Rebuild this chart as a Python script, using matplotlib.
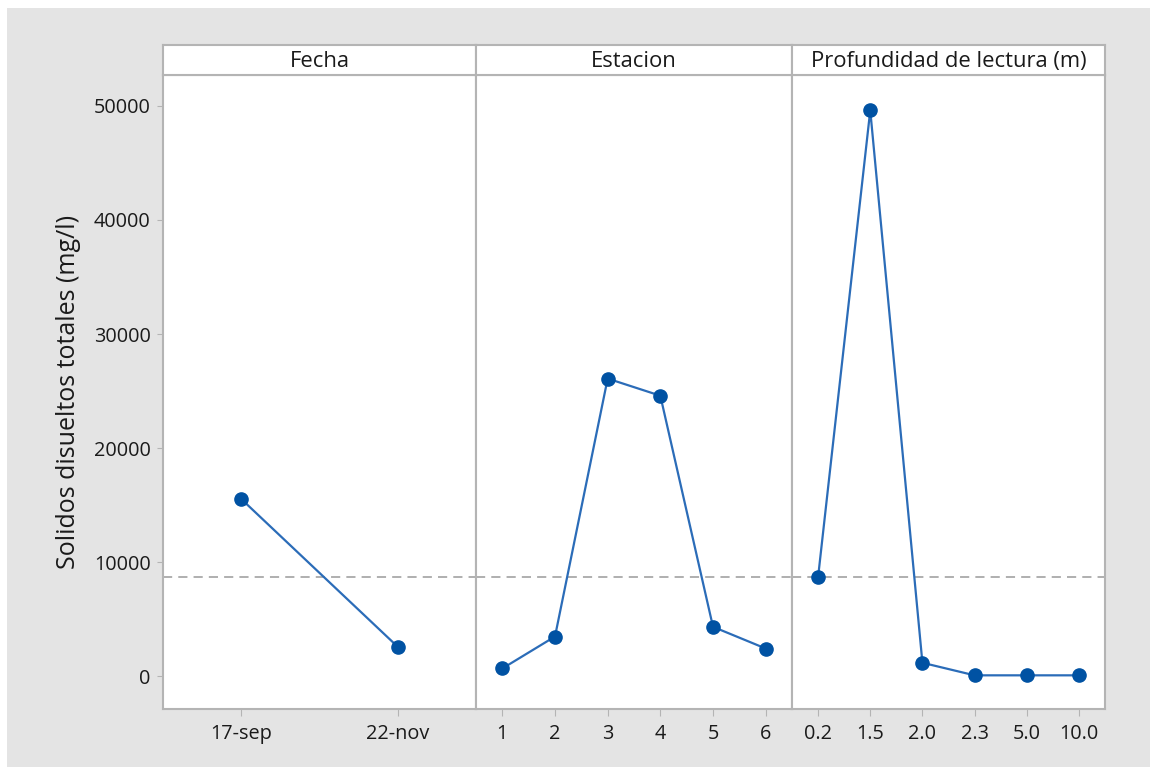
import numpy as np
import matplotlib.pyplot as plt
from matplotlib.patches import Rectangle

plt.rcParams['font.family'] = ['Open Sans', 'DejaVu Sans']

# data
fecha = ['17-sep', '22-nov']
fecha_vals = [15550, 2600]

estacion = ['1', '2', '3', '4', '5', '6']
estacion_vals = [700, 3500, 26100, 24600, 4350, 2450]

prof = ['0.2', '1.5', '2.0', '2.3', '5.0', '10.0']
prof_vals = [8700, 49600, 1200, 100, 100, 100]

panel_titles = ['Fecha', 'Estacion', 'Profundidad de lectura (m)']
mean_line = 8700
yticks = [0, 10000, 20000, 30000, 40000, 50000]

W, H = 1150, 769
fig = plt.figure(figsize=(W / 100, H / 100), dpi=100)
fig.patch.set_facecolor('white')
fig.patches.append(Rectangle((7 / W, 2 / H), 1 - 7 / W, 1 - 10 / H,
                             transform=fig.transFigure, facecolor='#e4e4e4',
                             edgecolor='none', zorder=-10))

frame_col = '#b4b4b4'
line_col = '#2b6cb8'
mark_col = '#0052a3'
txt_col = '#1a1a1a'

edges = [163, 476, 792, 1105]
bot, top, head = 709, 75, 45
groups = [(fecha, fecha_vals), (estacion, estacion_vals), (prof, prof_vals)]

for i, (cats, vals) in enumerate(groups):
    x0, x1 = edges[i], edges[i + 1]
    ax = fig.add_axes([x0 / W, 1 - bot / H, (x1 - x0) / W, (bot - top) / H])
    ax.set_facecolor('white')
    x = np.arange(len(cats))
    ax.axhline(mean_line, color='#9a9a9a', lw=1.1, ls=(0, (6, 4)), zorder=1)
    ax.plot(x, vals, color=line_col, lw=1.6, zorder=2)
    ax.plot(x, vals, 'o', color=mark_col, ms=9.5, zorder=3)
    ax.set_xlim(-0.5, len(cats) - 0.5)
    ax.set_ylim(-2850, 52700)
    ax.set_xticks(x)
    ax.set_xticklabels(cats, fontsize=14.3, color=txt_col)
    ax.set_yticks(yticks)
    if i == 0:
        ax.set_yticklabels([str(v) for v in yticks], fontsize=14.3, color=txt_col)
        ax.set_ylabel('Solidos disueltos totales (mg/l)', fontsize=18,
                      color=txt_col, labelpad=9)
        ax.tick_params(axis='y', length=4, color=frame_col, pad=5)
    else:
        ax.tick_params(axis='y', left=False, labelleft=False)
    ax.tick_params(axis='x', length=5, color=frame_col, pad=6)
    for s in ax.spines.values():
        s.set_color(frame_col)
        s.set_linewidth(1.5)

    hx = fig.add_axes([x0 / W, 1 - top / H, (x1 - x0) / W, (top - head) / H])
    hx.set_facecolor('white')
    hx.set_xticks([])
    hx.set_yticks([])
    for s in hx.spines.values():
        s.set_color(frame_col)
        s.set_linewidth(1.5)
    hx.text(0.5, 0.45, panel_titles[i], ha='center', va='center',
            fontsize=15.8, color=txt_col, transform=hx.transAxes)

fig.savefig('out.png', dpi=100)
